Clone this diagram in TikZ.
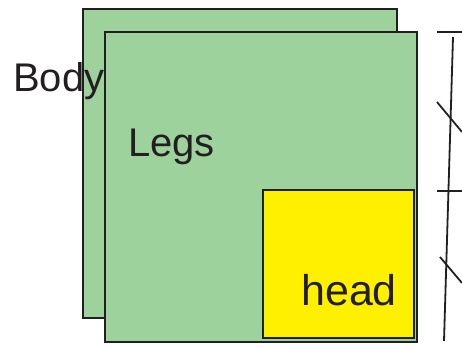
\documentclass[tikz,border=0pt]{standalone}
\usepackage{fontspec}
\setmainfont{Liberation Sans}
\definecolor{boxgreen}{RGB}{157,210,157}
\definecolor{boxyellow}{RGB}{255,240,0}
\definecolor{edge}{RGB}{35,31,32}
\begin{document}
\begin{tikzpicture}[x=1pt,y=-1pt,
  panel/.style={draw=edge,line width=2.6pt},
  lbl/.style={anchor=base west,inner sep=0pt,text=edge,font=\fontsize{40}{40}\selectfont},
  rule/.style={draw=edge,line width=1.8pt}]
\useasboundingbox (0,0) rectangle (462,347);
\filldraw[panel,fill=boxgreen] (83,9) rectangle (397,318);
\node[lbl] (body) at (13,92) {Body};
\filldraw[panel,fill=boxgreen] (105,32) rectangle (417,342);
\node[lbl] (legs) at (128,157) {Legs};
\filldraw[panel,fill=boxyellow] (263,190) rectangle (414,338);
\node[lbl,font=\fontsize{43}{43}\selectfont] (head) at (301,305) {head};
\coordinate (vtop) at (453,37);
\coordinate (vbot) at (444,341);
\draw[rule] (vtop) -- (vbot);
\coordinate (t1a) at (437,32); \coordinate (t1b) at (462,32);
\draw[rule] (t1a) -- (t1b);
\coordinate (t2a) at (437,191); \coordinate (t2b) at (462,191);
\draw[rule] (t2a) -- (t2b);
\coordinate (s1a) at (437,102); \coordinate (s1b) at (462,132);
\draw[rule] (s1a) -- (s1b);
\coordinate (s2a) at (440,257); \coordinate (s2b) at (462,283);
\draw[rule] (s2a) -- (s2b);
\end{tikzpicture}
\end{document}
